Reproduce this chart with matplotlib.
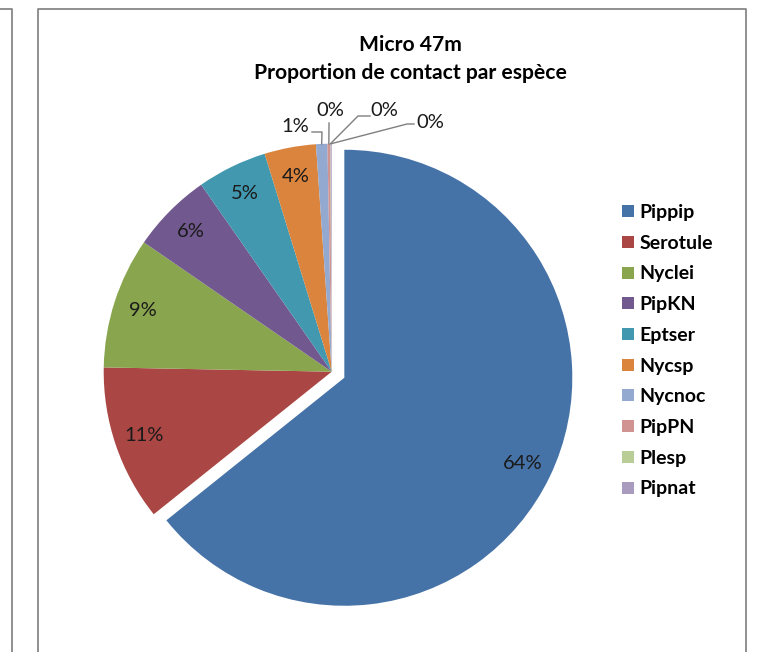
import numpy as np
import matplotlib
matplotlib.use("Agg")
import matplotlib.pyplot as plt
from matplotlib.lines import Line2D

plt.rcParams['font.family'] = ['Lato', 'DejaVu Sans']

# Donnees : part des contacts par espece
especes = ['Pippip', 'Serotule', 'Nyclei', 'PipKN', 'Eptser',
           'Nycsp', 'Nycnoc', 'PipPN', 'Plesp', 'Pipnat']
parts = [64.25, 11.05, 9.3, 5.7, 4.95, 3.65, 0.8, 0.2, 0.03, 0.07]
couleurs = ['#4572A7', '#AA4643', '#89A54E', '#71588F', '#4198AF',
            '#DB843D', '#93A9CF', '#D19392', '#B9CD96', '#A99BBD']
titre = "Micro 47m\nProportion de contact par espèce"

W, H = 757, 652
fig = plt.figure(figsize=(W / 100, H / 100), dpi=100)
ax = fig.add_axes([0, 0, 1, 1])


def fy(y):
    # coordonnees ecran (y vers le bas) -> coordonnees du graphe
    return H - y


# Cadres gris
gris = '#878787'
ax.plot([0, 12, 12], [fy(9), fy(9), fy(H + 5)], color=gris, lw=1.3)
ax.plot([37.5, 37.5, 746, 746], [fy(H + 5), fy(9), fy(9), fy(H + 5)],
        color=gris, lw=1.3)

# Camembert (l'ecart de la part detachee est en unites du graphe)
cx, cy, R = 331.7, fy(371.7), 228
explode = [14] + [0] * (len(parts) - 1)
wedges, _, pct = ax.pie(parts, colors=couleurs, startangle=90,
                        counterclock=False, explode=explode,
                        center=(cx, cy), radius=R,
                        autopct='%.0f%%', pctdistance=0.87,
                        wedgeprops=dict(linewidth=0),
                        textprops=dict(fontsize=14.5, color='#1a1a1a'))

# Etiquettes des petites parts, sorties avec des traits de rappel
ext = {6: ((295.5, 127), [(312, 132), (322, 132)]),
       7: ((330, 110.5), [(329, 123)]),
       8: ((384, 110.5), [(370, 116), (358, 116)]),
       9: ((430, 123), [(414, 124), (407, 124)])}
for i, (pos, pts) in ext.items():
    w = wedges[i]
    a = np.deg2rad((w.theta1 + w.theta2) / 2)
    bx = cx + R * np.cos(a)
    by = cy + R * np.sin(a)
    pct[i].set_position((pos[0], fy(pos[1])))
    pct[i].set_ha('center')
    pct[i].set_va('center')
    xs = [p[0] for p in pts] + [bx]
    ys = [fy(p[1]) for p in pts] + [by]
    ax.plot(xs, ys, color='#7f7f7f', lw=1.0)

ax.set_xlim(0, W)
ax.set_ylim(0, H)
ax.set_aspect('equal')
ax.axis('off')

ax.text(410, fy(59), titre, ha='center', va='center', fontsize=15.2,
        fontweight='bold', linespacing=1.45)

# Legende
poignees = [Line2D([], [], marker='s', linestyle='', markersize=8,
                   markerfacecolor=c, markeredgewidth=0) for c in couleurs]
ax.legend(poignees, especes, loc='upper left',
          bbox_to_anchor=(622, fy(204)), bbox_transform=ax.transData,
          frameon=False, prop=dict(size=14, weight='bold'),
          handlelength=0.6, handletextpad=0.3, labelspacing=0.705,
          borderpad=0, borderaxespad=0)

fig.savefig('out.png', dpi=100)
